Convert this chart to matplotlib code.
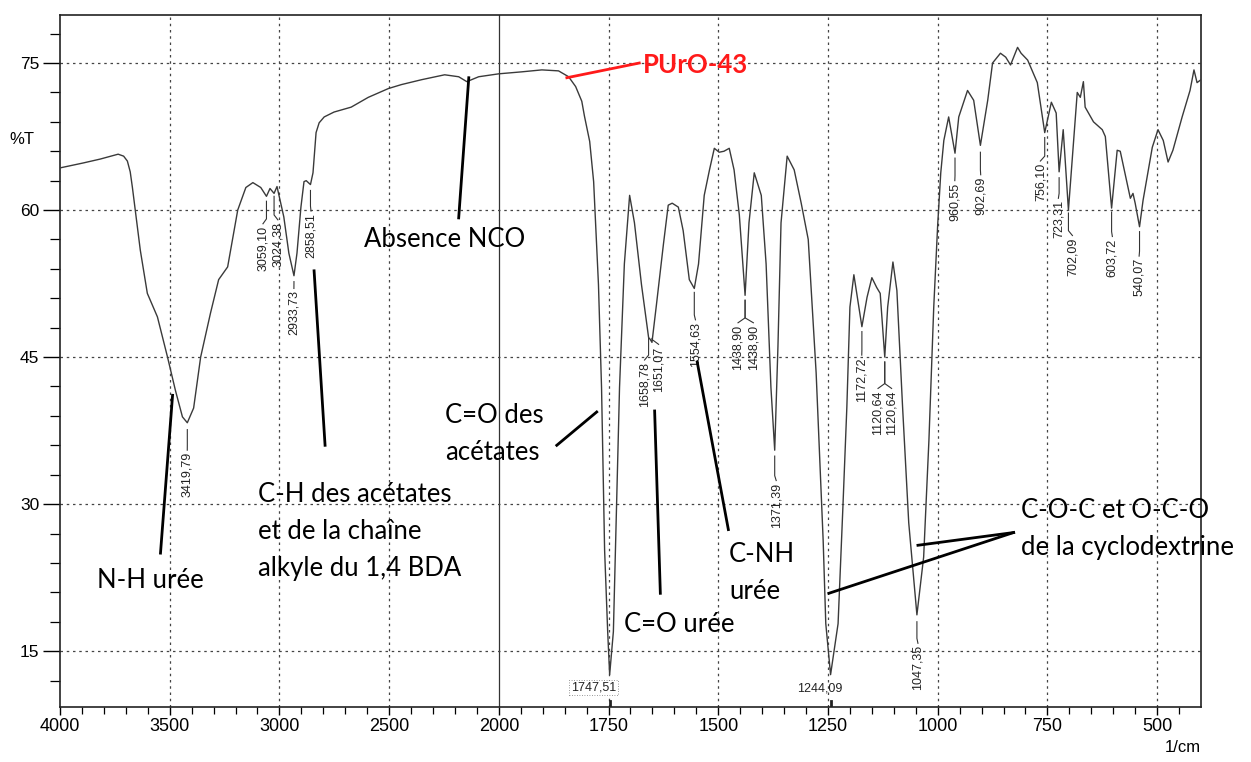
import numpy as np
import matplotlib
matplotlib.use('Agg')
import matplotlib.pyplot as plt

# IR spectrum of PUrO-43 (wavenumber in 1/cm, transmittance in %T)
wavenumber = [4000, 3895, 3817, 3735, 3710, 3693, 3680, 3670, 3657, 3634, 3602, 3556,
              3510, 3474, 3442, 3419.79, 3391, 3359, 3314, 3277, 3236, 3190,
              3153, 3121, 3085, 3059.10, 3043, 3024.38, 3011, 2980, 2957, 2933.73,
              2920, 2902, 2888, 2878, 2858.51, 2847, 2833, 2819, 2796, 2751,
              2673, 2595, 2503, 2444, 2352, 2247, 2183, 2146, 2092, 2000,
              1948, 1902, 1864, 1841, 1825, 1811, 1805, 1793, 1784, 1773, 1766, 1759,
              1752, 1747.51, 1739, 1732, 1725, 1714, 1702, 1691, 1675, 1658.78,
              1655, 1651.07, 1641, 1625, 1614, 1605, 1591, 1580, 1566, 1554.63,
              1545, 1532, 1520, 1509, 1498, 1487, 1475, 1464, 1452, 1438.90,
              1430, 1418, 1402, 1391, 1380, 1371.39, 1364, 1357, 1343, 1327,
              1311, 1295, 1277, 1261, 1255, 1244.09, 1227, 1216, 1207, 1200,
              1191, 1182, 1172.72, 1161, 1150, 1139, 1131, 1120.64, 1114, 1102,
              1093, 1080, 1066, 1047.35, 1032, 1020, 1009, 1000, 993, 986,
              975, 960.55, 952, 932, 918, 902.69, 886, 875, 857, 845,
              834, 818, 810, 795, 773, 756.10, 741, 730, 723.31, 714,
              702.09, 682, 675, 668, 664, 645, 625, 618, 603.72, 591,
              584, 561, 555, 550, 540.07, 532, 511, 498, 486, 475,
              464, 443, 425, 416, 409, 400]
transmittance = [64.3, 64.8, 65.2, 65.7, 65.5, 65.0, 63.9, 62.3, 60.0, 55.9, 51.5, 49.1,
                 45.0, 41.6, 38.9, 38.3, 39.8, 45.0, 49.5, 52.9, 54.2, 60.0,
                 62.3, 62.8, 62.3, 61.4, 62.2, 61.7, 62.4, 59.3, 55.6, 53.3,
                 55.6, 60.3, 62.9, 63.0, 62.6, 63.8, 67.9, 68.9, 69.5, 70.0,
                 70.5, 71.5, 72.4, 72.8, 73.3, 73.8, 73.6, 73.1, 73.6, 73.9,
                 74.1, 74.3, 74.2, 73.6, 72.6, 71.1, 69.6, 67.0, 62.9, 52.4, 41.9, 25.3,
                 17.0, 12.6, 17.0, 29.5, 41.9, 54.5, 61.5, 58.7, 52.4, 47.0,
                 46.8, 46.5, 50.3, 56.5, 60.5, 60.7, 60.3, 57.9, 52.9, 52.0,
                 54.5, 61.5, 64.1, 66.3, 65.9, 66.0, 66.3, 64.1, 59.5, 51.3,
                 58.7, 63.8, 61.5, 54.5, 41.9, 35.5, 46.1, 58.7, 65.5, 64.1,
                 60.7, 57.0, 43.4, 26.3, 17.8, 12.6, 17.8, 29.7, 39.9, 50.1,
                 53.4, 50.8, 48.1, 51.1, 53.1, 52.1, 51.5, 45.0, 50.1, 54.7,
                 51.8, 39.9, 28.1, 18.7, 24.6, 36.5, 50.1, 58.5, 63.8, 67.1,
                 69.5, 65.8, 69.5, 72.2, 71.2, 66.6, 71.2, 75.0, 76.0, 75.6,
                 74.8, 76.6, 76.0, 75.3, 73.0, 67.9, 71.0, 69.9, 63.9, 68.2,
                 60.0, 72.0, 71.5, 73.1, 70.5, 69.0, 68.2, 67.5, 60.2, 66.1,
                 66.0, 61.2, 61.7, 60.7, 58.3, 61.0, 66.4, 68.2, 67.1, 64.9,
                 66.1, 69.5, 72.2, 74.3, 73.0, 73.3]

# peak picks: (peak, label, text x, leader start %T, text top %T)
peak_labels = [
    (3419.79, '3419,79', 3420, 37.6, 35.3),
    (3059.10, '3059,10', 3075, 60.9, 58.4),
    (3024.38, '3024,38', 3007, 61.4, 58.8),
    (2933.73, '2933,73', 2934, 52.7, 51.8),
    (2858.51, '2858,51', 2856, 62.0, 59.7),
    (1658.78, '1658,78', 1668, 46.9, 44.5),
    (1651.07, '1651,07', 1636, 46.9, 46.1),
    (1554.63, '1554,63', 1552, 51.6, 48.6),
    (1438.90, '1438,90', 1455, 50.8, 48.3),
    (1438.90, '1438,90', 1420, 50.8, 48.3),
    (1371.39, '1371,39', 1368, 34.9, 32.2),
    (1172.72, '1172,72', 1173, 47.6, 45.0),
    (1120.64, '1120,64', 1136, 44.5, 41.6),
    (1120.64, '1120,64', 1105, 44.5, 41.6),
    (1047.35, '1047,35', 1045, 18.0, 15.6),
    (960.55, '960,55', 961, 65.3, 62.8),
    (902.69, '902,69', 902, 65.9, 63.4),
    (756.10, '756,10', 766, 67.4, 64.8),
    (723.31, '723,31', 725, 63.3, 61.0),
    (702.09, '702,09', 693, 59.7, 57.2),
    (603.72, '603,72', 602, 59.8, 57.1),
    (540.07, '540,07', 541, 57.8, 55.1),
]

x_major = [4000, 3500, 3000, 2500, 2000, 1750, 1500, 1250, 1000, 750, 500]
y_major = [15, 30, 45, 60, 75]


def fwd(x):
    x = np.asarray(x, dtype=float)
    return np.where(x > 2000, 2000 + (x - 2000) / 2, x)


def inv(u):
    u = np.asarray(u, dtype=float)
    return np.where(u > 2000, 2000 + (u - 2000) * 2, u)


fig = plt.figure(figsize=(12.51, 7.62), dpi=100)
ax = fig.add_axes([60 / 1251, 55 / 762, 1141 / 1251, 692 / 762])
ax.set_xscale('function', functions=(fwd, inv))
ax.set_xlim(4000, 400)
ax.set_ylim(9.3, 79.9)

grid_kw = dict(color='#444444', lw=0.9, linestyle=(0, (2, 3)), zorder=1)
for x in x_major:
    if x == 2000:
        ax.axvline(x, color='#333333', lw=0.9, zorder=1)
    elif x != 4000:
        ax.axvline(x, **grid_kw)
for y in y_major:
    ax.axhline(y, **grid_kw)

ax.plot(wavenumber, transmittance, color='#3a3a3a', lw=1.0, zorder=3)

ax.set_xticks(x_major)
ax.set_xticklabels([str(v) for v in x_major])
minor_x = [v for v in list(range(3900, 2000, -100)) + list(range(1950, 400, -50))
           if v not in x_major]
ax.set_xticks(minor_x, minor=True)
ax.set_yticks(y_major)
ax.set_yticks([v for v in range(12, 79, 3) if v not in y_major], minor=True)

ax.tick_params(axis='x', which='major', direction='out', length=6, width=1,
               labelsize=13, pad=2)
ax.tick_params(axis='x', which='minor', direction='out', length=5, width=0.9)
ax.tick_params(axis='y', which='major', direction='out', length=12, width=1,
               labelsize=12.5, pad=3)
ax.tick_params(axis='y', which='minor', direction='out', length=7, width=0.9)
for lab in ax.get_xticklabels() + ax.get_yticklabels():
    lab.set_family('Liberation Sans')
for s in ax.spines.values():
    s.set_linewidth(1.2)
    s.set_color('#222222')

fig.text(22 / 1251, 1 - 140 / 762, '%T', fontsize=12, family='Liberation Sans',
         ha='center', va='center')
fig.text(1201 / 1251, 1 - 748 / 762, '1/cm', fontsize=12, family='Liberation Sans',
         ha='right', va='center')

# peak picks, rotated with a short leader
for wn, lab, xt, t_lead, t_top in peak_labels:
    ax.plot([wn, wn, xt], [t_lead, t_top + 0.7, t_top + 0.2], color='#333333',
            lw=0.8, zorder=3)
    ax.text(xt, t_top, lab, rotation=90, ha='center', va='top', fontsize=9,
            family='Liberation Sans', color='#222222')

# the two strongest bands are labelled horizontally under the minimum
ax.text(1784, 11.3, '1747,51', ha='center', va='center', fontsize=9,
        family='Liberation Sans', color='#222222',
        bbox=dict(boxstyle='square,pad=0.15', fc='white', ec='#777777',
                  lw=0.6, ls=(0, (1, 2))))
ax.text(1268, 11.2, '1244,09', ha='center', va='center', fontsize=9,
        family='Liberation Sans', color='#222222')
for wn in (1747.51, 1244.09):
    ax.plot([wn, wn], [9.3, 9.9], color='#222222', lw=2, zorder=3)

# band assignments
note_kw = dict(fontsize=18.5, family='Lato', color='black', ha='left', va='baseline')
lines_kw = dict(color='black', lw=2.0, zorder=4)

ax.plot([3542, 3487], [25.0, 41.1], **lines_kw)
ax.text(3831, 21.4, 'N-H urée', **note_kw)

ax.plot([2842, 2792], [53.8, 36.0], **lines_kw)
ax.text(3096, 30.2, 'C-H des acétates', **note_kw)
ax.text(3096, 26.4, 'et de la chaîne', **note_kw)
ax.text(3096, 22.65, 'alkyle du 1,4 BDA', **note_kw)

ax.plot([2137, 2183], [73.5, 59.2], **lines_kw)
ax.text(2613, 56.2, 'Absence NCO', **note_kw)

ax.plot([1777, 1868], [39.4, 36.0], **lines_kw)
ax.text(2247, 38.3, 'C=O des', **note_kw)
ax.text(2247, 34.5, 'acétates', **note_kw)

ax.plot([1645, 1632], [39.5, 20.9], **lines_kw)
ax.text(1714, 17.0, 'C=O urée', **note_kw)

ax.plot([1548, 1477], [44.5, 27.4], **lines_kw)
ax.text(1475, 24.1, 'C-NH', **note_kw)
ax.text(1475, 20.3, 'urée', **note_kw)

ax.plot([827, 1045], [27.1, 25.8], **lines_kw)
ax.plot([827, 1248], [27.1, 20.9], **lines_kw)
ax.text(811, 28.6, 'C-O-C et O-C-O', **note_kw)
ax.text(811, 24.8, 'de la cyclodextrine', **note_kw)

ax.plot([1845, 1680], [73.5, 75.0], color='#ff1a1a', lw=2.0, zorder=4)
ax.text(1671, 74.0, 'PUrO-43', fontsize=18.5, family='Lato', weight='bold',
        color='#ff1a1a', ha='left', va='baseline')

fig.savefig('out.png', dpi=100)
